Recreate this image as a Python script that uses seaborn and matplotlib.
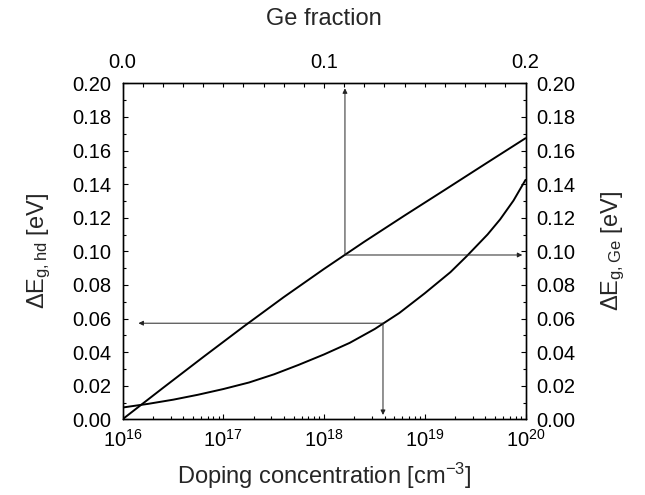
import matplotlib
matplotlib.use("Agg")
import matplotlib.pyplot as plt
import seaborn as sns
from matplotlib.ticker import MultipleLocator, FormatStrFormatter, LogLocator, NullFormatter

# ---- data ----
doping = [1.0e16, 1.8e16, 3.2e16, 5.6e16, 1.0e17, 1.8e17, 3.2e17, 5.6e17,
          1.0e18, 1.8e18, 3.2e18, 5.6e18, 1.0e19, 1.8e19, 2.6e19, 4.2e19,
          5.6e19, 7.6e19, 1.0e20]
eg_hd = [0.0070, 0.0092, 0.0117, 0.0146, 0.0180, 0.0219, 0.0268, 0.0324,
         0.0386, 0.0455, 0.0538, 0.0633, 0.0750, 0.0876, 0.0970, 0.1100,
         0.1190, 0.1302, 0.1425]

ge_fraction = [0.0, 0.02, 0.04, 0.06, 0.08, 0.10, 0.12, 0.14, 0.16, 0.18, 0.20]
eg_ge = [0.0, 0.0186, 0.0370, 0.0551, 0.0727, 0.0895, 0.1057, 0.1213, 0.1366, 0.1520, 0.1673]

# annotation arrows (read-off example values)
ge_mark, ge_mark_eg = 0.1104, 0.0978
dop_mark, dop_mark_eg = 3.85e18, 0.0572
up_tip = 0.197
right_tip = 0.1984
left_tip = 1.44e16
down_tip = 0.0026

bottom_ticks = [1e16, 1e17, 1e18, 1e19, 1e20]

sns.set_theme(style="ticks")
plt.rcParams["font.family"] = ["Liberation Sans", "DejaVu Sans"]
plt.rcParams["mathtext.fontset"] = "custom"
plt.rcParams["mathtext.rm"] = "Liberation Sans"
plt.rcParams["mathtext.it"] = "Liberation Sans:italic"
plt.rcParams["mathtext.bf"] = "Liberation Sans:bold"
plt.rcParams["mathtext.default"] = "regular"

TICK_FS = 14.5
LABEL_FS = 17

fig = plt.figure(figsize=(6.45, 4.95), dpi=100)
fig.patch.set_facecolor("white")
ax = fig.add_axes([122.5 / 645, (495 - 419.3) / 495, 403 / 645, 336 / 495])
ax.set_facecolor("white")

sns.lineplot(x=doping, y=eg_hd, ax=ax, color="black", linewidth=1.4,
             legend=False, errorbar=None, sort=True)
ax.set_xscale("log")
ax.set_xlim(1e16, 1e20)
ax.set_ylim(0, 0.2)
ax.set_xticks(bottom_ticks)
ax.xaxis.set_minor_locator(LogLocator(base=10, subs=range(2, 10)))
ax.xaxis.set_minor_formatter(NullFormatter())
ax.yaxis.set_major_locator(MultipleLocator(0.02))
ax.yaxis.set_minor_locator(MultipleLocator(0.01))
ax.yaxis.set_major_formatter(FormatStrFormatter("%.2f"))
ax.tick_params(which="both", direction="in", top=False, right=False,
               labelsize=TICK_FS, colors="black", width=0.8)
ax.tick_params(which="major", length=3.5, pad=8)
ax.tick_params(which="minor", length=2)
ax.tick_params(axis="x", which="major", pad=7)
ax.set_xlabel("Doping concentration [cm$^{-3}$]", fontsize=LABEL_FS, labelpad=7)
ax.set_ylabel(r"$\Delta$E$_{g,hd}$ [eV]", fontsize=LABEL_FS, labelpad=14)

# top axis: Ge fraction
ax_top = ax.twiny()
sns.lineplot(x=ge_fraction, y=eg_ge, ax=ax_top, color="black", linewidth=1.4,
             legend=False, errorbar=None, sort=True)
ax_top.set_xlim(0, 0.2)
ax_top.set_ylim(0, 0.2)
ax_top.xaxis.set_major_locator(MultipleLocator(0.1))
ax_top.xaxis.set_minor_locator(MultipleLocator(0.01))
ax_top.xaxis.set_major_formatter(FormatStrFormatter("%.1f"))
ax_top.tick_params(axis="x", which="both", direction="in", labelsize=TICK_FS,
                   colors="black", width=0.8, pad=8)
ax_top.tick_params(axis="x", which="major", length=3.5)
ax_top.tick_params(axis="x", which="minor", length=3)
ax_top.set_xlabel("Ge fraction", fontsize=LABEL_FS, labelpad=20)
ax_top.set_ylabel("")

# right axis
ax_r = ax.twinx()
ax_r.set_ylim(0, 0.2)
ax_r.yaxis.set_major_locator(MultipleLocator(0.02))
ax_r.yaxis.set_minor_locator(MultipleLocator(0.01))
ax_r.yaxis.set_major_formatter(FormatStrFormatter("%.2f"))
ax_r.tick_params(axis="y", which="both", direction="in", labelsize=TICK_FS,
                 colors="black", width=0.8, pad=8)
ax_r.tick_params(axis="y", which="major", length=3.5)
ax_r.tick_params(axis="y", which="minor", length=2)
ax_r.set_ylabel(r"$\Delta$E$_{g,Ge}$ [eV]", fontsize=LABEL_FS, labelpad=17,
                rotation=90, va="top")

for a in (ax, ax_top, ax_r):
    for s in a.spines.values():
        s.set_visible(True)
        s.set_linewidth(0.9)
        s.set_color("black")

arrow_kw = dict(arrowstyle="-|>", color="#222222", lw=0.7, mutation_scale=7,
                shrinkA=0, shrinkB=0)
# upper mark: Ge fraction -> up to top axis, right to right axis
ax_top.annotate("", xy=(ge_mark, up_tip), xytext=(ge_mark, ge_mark_eg),
                arrowprops=arrow_kw)
ax_top.annotate("", xy=(right_tip, ge_mark_eg), xytext=(ge_mark, ge_mark_eg),
                arrowprops=arrow_kw)
# lower mark: doping curve -> left to left axis, down to bottom axis
ax.annotate("", xy=(left_tip, dop_mark_eg), xytext=(dop_mark, dop_mark_eg),
            arrowprops=arrow_kw)
ax.annotate("", xy=(dop_mark, down_tip), xytext=(dop_mark, dop_mark_eg),
            arrowprops=arrow_kw)

fig.savefig("out.png", dpi=100, facecolor="white")
